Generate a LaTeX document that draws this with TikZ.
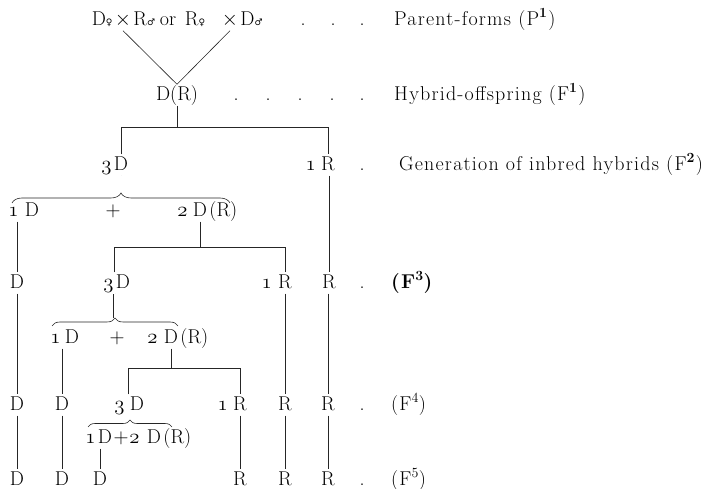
\documentclass[tikz,border=0pt]{standalone}
\usepackage{fontspec}
\setmainfont{Latin Modern Roman}
\newfontfamily\symfont{DejaVu Sans}
\usetikzlibrary{positioning,decorations.pathreplacing}

\newcommand\osn[1]{{\usefont{OML}{cmm}{m}{it}#1}}
\newcommand\fem{{\symfont\fontsize{9}{9}\selectfont ♀}}
\newcommand\mal{{\symfont\fontsize{9}{9}\selectfont ♂}}

\begin{document}
\begin{tikzpicture}[x=1pt, y=-1pt,
    gen/.style={inner sep=1pt, text height=15pt, text depth=4pt,
                font=\fontsize{20}{24}\selectfont},
    lbl/.style={gen, anchor=west,
                font=\fontsize{20}{24}\selectfont\addfontfeature{LetterSpace=6}},
    link/.style={line width=0.6pt, draw=black!85},
    twin/.style={link, double, double distance=1.6pt},
    brc/.style={link, decorate, decoration={brace, amplitude=#1}}
  ]
    \useasboundingbox (0,0) rectangle (713,489);

    % parent forms
    \node[gen] (px1) at (123,20) {$\times$};
    \node[gen] (px2) at (230,20) {$\times$};
    \node[gen, left=0pt of px1] (pdf) {D\fem};
    \node[gen, right=0pt of px1] (prm) {R\mal};
    \node[gen] (por) at (168,20) {or};
    \node[gen] (prf) at (195,20) {R\fem};
    \node[gen, right=0pt of px2] (pdm) {D\mal};
    \foreach \x in {303,333,362} \node[gen] (pp\x) at (\x,20) {.};
    \node[lbl] (plbl) at (393,20) {Parent-forms (P\textsuperscript{\textbf{1}})};

    % F1
    \node[gen] (dr) at (177,95) {D(R)};
    \foreach \x in {236,268,300,332,362} \node[gen] (fd\x) at (\x,95) {.};
    \node[lbl] (f1lbl) at (393,95) {Hybrid-offspring (F\textsuperscript{\textbf{1}})};

    % F2
    \node[gen] (f2d) at (121,165) {D};
    \node[gen, left=0pt of f2d] (f2dn) {\osn{3}};
    \node[gen] (f2r) at (328,165) {R};
    \node[gen, left=3pt of f2r] (f2rn) {\osn{1}};
    \node[gen] (f2dot) at (362,165) {.};
    \node[lbl] (f2lbl) at (398,165) {Generation of inbred hybrids (F\textsuperscript{\textbf{2}})};

    \node[gen] (a1d) at (32,211) {D};
    \node[gen, left=4pt of a1d] (a1n) {\osn{1}};
    \node[gen] (a1p) at (113,211) {$+$};
    \node[gen] (a2d) at (200,211) {D};
    \node[gen, right=0pt of a2d] (a2r) {(R)};
    \node[gen, left=3pt of a2d] (a2n) {\osn{2}};

    % F3
    \node[gen] (f3a) at (17,283) {D};
    \node[gen] (f3d) at (123,283) {D};
    \node[gen, left=0pt of f3d] (f3dn) {\osn{3}};
    \node[gen] (f3q) at (285,283) {R};
    \node[gen, left=4pt of f3q] (f3qn) {\osn{1}};
    \node[gen] (f3r) at (329,283) {R};
    \node[gen] (f3dot) at (362,283) {.};
    \node[lbl] (f3lbl) at (390,283) {\textbf{(F\textsuperscript{3})}};

    \node[gen] (b1d) at (72,338) {D};
    \node[gen, left=2pt of b1d] (b1n) {\osn{1}};
    \node[gen] (b1p) at (117,338) {$+$};
    \node[gen] (b2d) at (171,338) {D};
    \node[gen, right=0pt of b2d] (b2r) {(R)};
    \node[gen, left=4pt of b2d] (b2n) {\osn{2}};

    % F4
    \node[gen] (f4a) at (17,405) {D};
    \node[gen] (f4b) at (62,405) {D};
    \node[gen] (f4d) at (137,405) {D};
    \node[gen, left=3pt of f4d] (f4dn) {\osn{3}};
    \node[gen] (f4q) at (240,405) {R};
    \node[gen, left=3pt of f4q] (f4qn) {\osn{1}};
    \node[gen] (f4r) at (285,405) {R};
    \node[gen] (f4s) at (328,405) {R};
    \node[gen] (f4dot) at (362,405) {.};
    \node[lbl] (f4lbl) at (390,405) {(F\textsuperscript{4})};

    \node[gen] (c1d) at (105,438) {D};
    \node[gen, left=0pt of c1d] (c1n) {\osn{1}};
    \node[gen] (c1p) at (121,438) {$+$};
    \node[gen] (c2d) at (154,438) {D};
    \node[gen, right=0pt of c2d] (c2r) {(R)};
    \node[gen, left=5pt of c2d] (c2n) {\osn{2}};

    % F5
    \node[gen] (f5a) at (17,480) {D};
    \node[gen] (f5b) at (62,480) {D};
    \node[gen] (f5c) at (100,480) {D};
    \node[gen] (f5q) at (240,480) {R};
    \node[gen] (f5r) at (285,480) {R};
    \node[gen] (f5s) at (328,480) {R};
    \node[gen] (f5dot) at (362,480) {.};
    \node[lbl] (f5lbl) at (390,480) {(F\textsuperscript{5})};

    % crossing
    \draw[link] (px1.south) -- (dr.north);
    \draw[link] (px2.south) -- (dr.north);

    % splitting bars
    \coordinate (bar1) at (0,127);
    \coordinate (bar2) at (0,247);
    \coordinate (bar3) at (0,368);
    \draw[link] (dr.south) -- (dr.south |- bar1);
    \draw[link] (f2d.north) |- (f2r.north |- bar1) -- (f2r.north);
    \draw[link] (a2d.south) -- (a2d.south |- bar2);
    \draw[link] (f3d.north west) |- (f3q.north |- bar2) -- (f3q.north);
    \draw[link] (b2d.south) -- (b2d.south |- bar3);
    \draw[link] (f4d.north west) |- (f4q.north |- bar3) -- (f4q.north);

    % braces
    \coordinate (k1) at (121,193);
    \coordinate (k2) at (115,318);
    \draw[twin] (f2d.south) -- (k1);
    \draw[brc=10pt] (12,203) -- (230,203);
    \draw[twin] (f3d.south west) -- (f3d.south west |- k2);
    \draw[brc=8pt] (52,326) -- (178,326);
    \draw[brc=7pt] (88,427) -- (172,427);

    % pure lines
    \draw[link] (f3a.north |- a1d.south) -- (f3a.north);
    \draw[link] (f3r.north |- f2r.south) -- (f3r.north);
    \draw[link] (f4b.north |- b1d.south) -- (f4b.north);
    \draw[link] (f5c.north |- c1d.south) -- (f5c.north);
    \foreach \u/\l in {f3a/f4a, f3q/f4r, f3r/f4s, f4a/f5a, f4b/f5b, f4q/f5q, f4r/f5r, f4s/f5s}
      \draw[link] (\l.north |- \u.south) -- (\l.north);
  \end{tikzpicture}
\end{document}
